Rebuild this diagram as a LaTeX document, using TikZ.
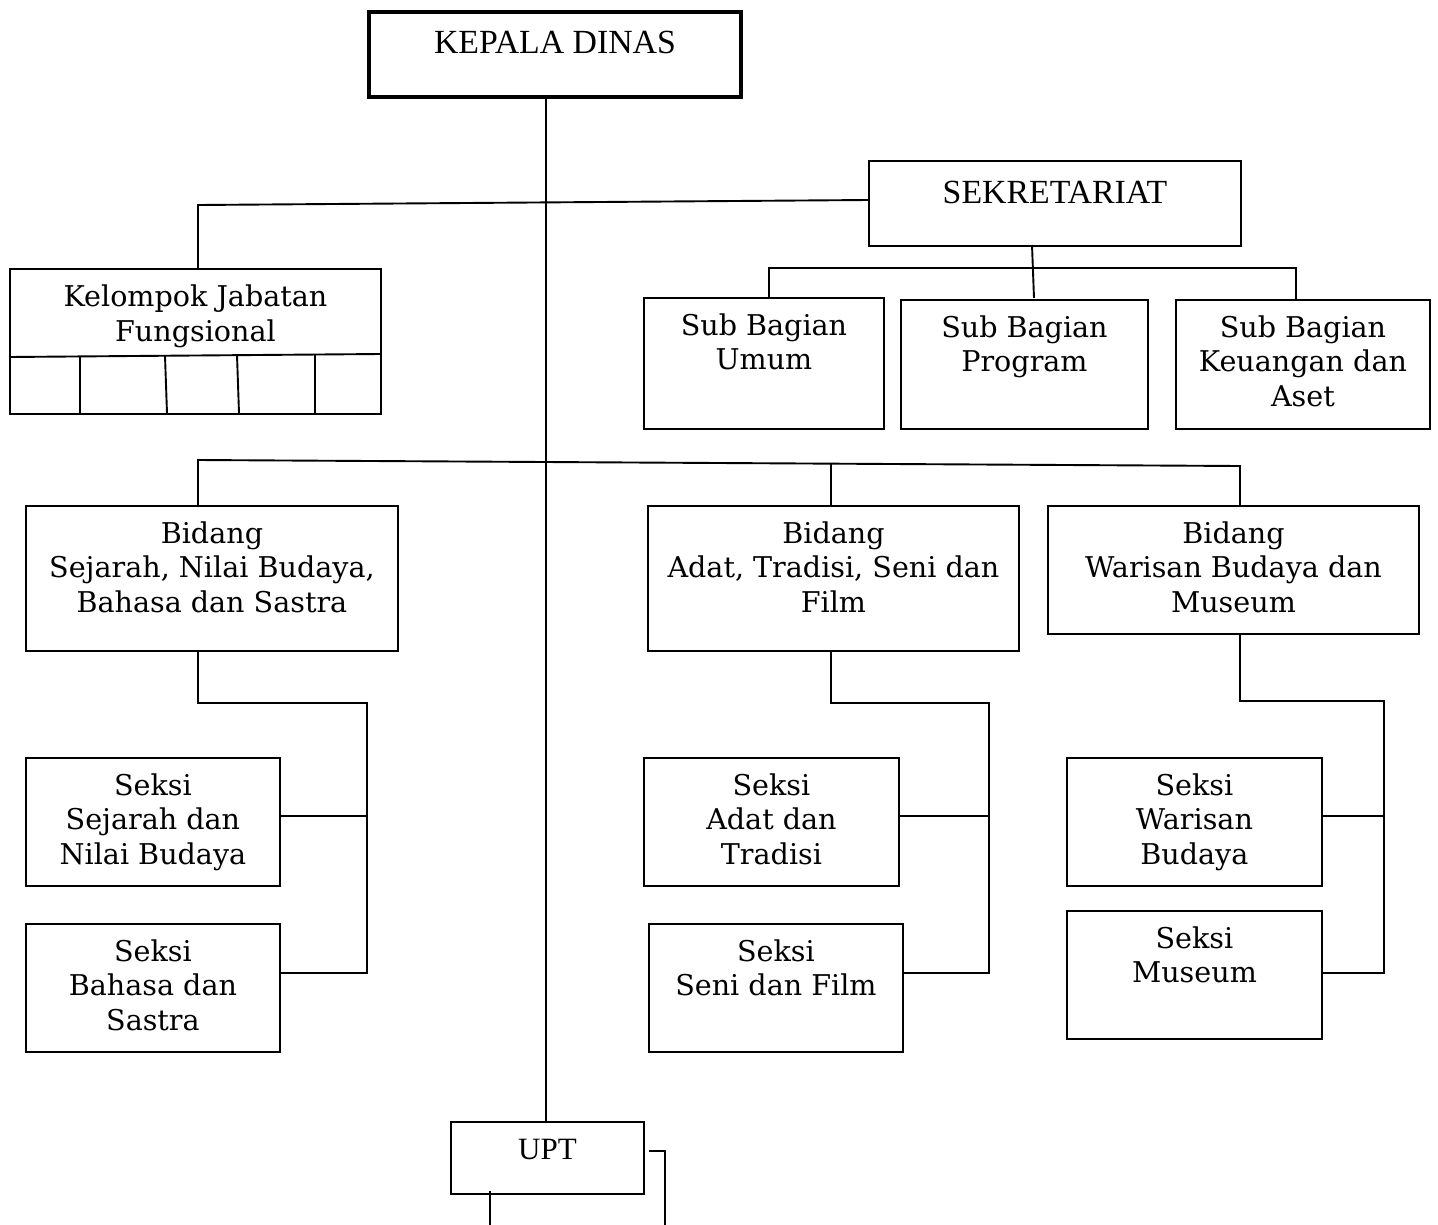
\documentclass[tikz,border=0pt]{standalone}
\usepackage{fontspec}
\setmainfont{DejaVu Serif}
\newfontfamily\timesf{Liberation Serif}
\usetikzlibrary{calc}
\begin{document}
\begin{tikzpicture}[x=1pt,y=-1pt,
  box/.style={draw, line width=1.9pt, anchor=north west, inner sep=0pt},
  txt/.style={align=center, anchor=base, inner sep=0pt, font=\fontsize{28.6}{34.5}\selectfont},
  ttxt/.style={anchor=base, inner sep=0pt, font=\timesf\fontsize{33.8}{40}\selectfont},
  ln/.style={line width=1.9pt}]
\useasboundingbox[fill=white] (0,0) rectangle (1438,1224);

% boxes
\node[box, line width=4pt, minimum width=372pt, minimum height=85pt] (kd) at (367,10) {};
\node[box, minimum width=372pt, minimum height=85pt] (sek) at (868,160) {};
\node[box, minimum width=371pt, minimum height=145pt] (kel) at (9,268) {};
\node[box, minimum width=240pt, minimum height=131pt] (sbu) at (643,297) {};
\node[box, minimum width=247pt, minimum height=129pt] (sbp) at (900,299) {};
\node[box, minimum width=254pt, minimum height=129pt] (sbk) at (1175,299) {};
\node[box, minimum width=372pt, minimum height=145pt] (bs) at (25,505) {};
\node[box, minimum width=371pt, minimum height=145pt] (ba) at (647,505) {};
\node[box, minimum width=371pt, minimum height=128pt] (bw) at (1047,505) {};
\node[box, minimum width=254pt, minimum height=128pt] (ss) at (25,757) {};
\node[box, minimum width=254pt, minimum height=128pt] (sb) at (25,923) {};
\node[box, minimum width=255pt, minimum height=128pt] (sa) at (643,757) {};
\node[box, minimum width=254pt, minimum height=128pt] (sf) at (648,923) {};
\node[box, minimum width=255pt, minimum height=128pt] (sw) at (1066,757) {};
\node[box, minimum width=255pt, minimum height=128pt] (sm) at (1066,910) {};
\node[box, minimum width=193pt, minimum height=72pt] (upt) at (450,1121) {};

% texts (anchor base = baseline of the last line)
\node[ttxt] (tkd) at ($(kd.north)+(0,43)$) {KEPALA DINAS};
\node[ttxt] (tsek) at ($(sek.north)+(0,43)$) {SEKRETARIAT};
\node[ttxt, font=\timesf\fontsize{31}{38}\selectfont] (tupt) at ($(upt.north)+(0,38)$) {UPT};
\node[txt] (tkel) at ($(kel.north)+(0,73)$) {Kelompok Jabatan\\Fungsional};
\node[txt] (tsbu) at ($(sbu.north)+(0,72.5)$) {Sub Bagian\\Umum};
\node[txt] (tsbp) at ($(sbp.north)+(0,72.5)$) {Sub Bagian\\Program};
\node[txt] (tsbk) at ($(sbk.north)+(0,107)$) {Sub Bagian\\Keuangan dan\\Aset};
\node[txt] (tbs) at ($(bs.north)+(0,107)$) {Bidang\\Sejarah, Nilai Budaya,\\Bahasa dan Sastra};
\node[txt] (tba) at ($(ba.north)+(0,107)$) {Bidang\\Adat, Tradisi, Seni dan\\Film};
\node[txt] (tbw) at ($(bw.north)+(0,107)$) {Bidang\\Warisan Budaya dan\\Museum};
\node[txt] (tss) at ($(ss.north)+(0,107)$) {Seksi\\Sejarah dan\\Nilai Budaya};
\node[txt] (tsb) at ($(sb.north)+(0,107)$) {Seksi\\Bahasa dan\\Sastra};
\node[txt] (tsa) at ($(sa.north)+(0,107)$) {Seksi\\Adat dan\\Tradisi};
\node[txt] (tsf) at ($(sf.north)+(0,72.5)$) {Seksi\\Seni dan Film};
\node[txt] (tsw) at ($(sw.north)+(0,107)$) {Seksi\\Warisan\\Budaya};
\node[txt] (tsm) at ($(sm.north)+(0,72.5)$) {Seksi\\Museum};

% Kelompok grid
\draw[ln] (9,357) -- (380,354);
\draw[ln] (80,356) -- (80,413);
\draw[ln] (165,356) -- (167,413);
\draw[ln] (237,355) -- (239,413);
\draw[ln] (315,354) -- (315,413);

% connector coordinates
\coordinate (trunk) at (546,0);
\coordinate (j1) at (198,205);
\coordinate (sekL) at (868,200);
\coordinate (sekB) at (1032,245);
\coordinate (sb1) at (769,268);
\coordinate (sb3) at (1296,268);
\coordinate (bb1) at (198,460);
\coordinate (bb2) at (831,463);
\coordinate (bb3) at (1240,466);

% connectors
\draw[ln] (kd.south -| trunk) -- (upt.north -| trunk);
\draw[ln] (sekL) -- (j1) -- (j1 |- kel.north);
\draw[ln] (sekB) -- (1034,298);
\draw[ln] (sbu.north -| sb1) -- (sb1) -- (sb3) -- (sbk.north -| sb3);
\draw[ln] (bs.north -| bb1) -- (bb1) -- (bb3) -- (bw.north -| bb3);
\draw[ln] (bb2) -- (ba.north -| bb2);

\coordinate (c1) at (198,703);
\coordinate (c1r) at (367,703);
\draw[ln] (bs.south -| c1) -- (c1) -- (c1r) -- (c1r |- 0,973) -- (sb.east |- 0,973);
\draw[ln] (c1r |- 0,816) -- (ss.east |- 0,816);

\coordinate (c2) at (831,703);
\coordinate (c2r) at (989,703);
\draw[ln] (ba.south -| c2) -- (c2) -- (c2r) -- (c2r |- 0,973) -- (sf.east |- 0,973);
\draw[ln] (c2r |- 0,816) -- (sa.east |- 0,816);

\coordinate (c3) at (1240,701);
\coordinate (c3r) at (1384,701);
\draw[ln] (bw.south -| c3) -- (c3) -- (c3r) -- (c3r |- 0,973) -- (sm.east |- 0,973);
\draw[ln] (c3r |- 0,816) -- (sw.east |- 0,816);

\coordinate (u1) at (649,1151);
\coordinate (u2) at (665,1151);
\coordinate (ubot) at (665,1226);
\draw[ln] (u1) -- (u2) -- (ubot);
\coordinate (u3) at (490,1191);
\draw[ln] (u3) -- (490,1226);
\end{tikzpicture}
\end{document}
